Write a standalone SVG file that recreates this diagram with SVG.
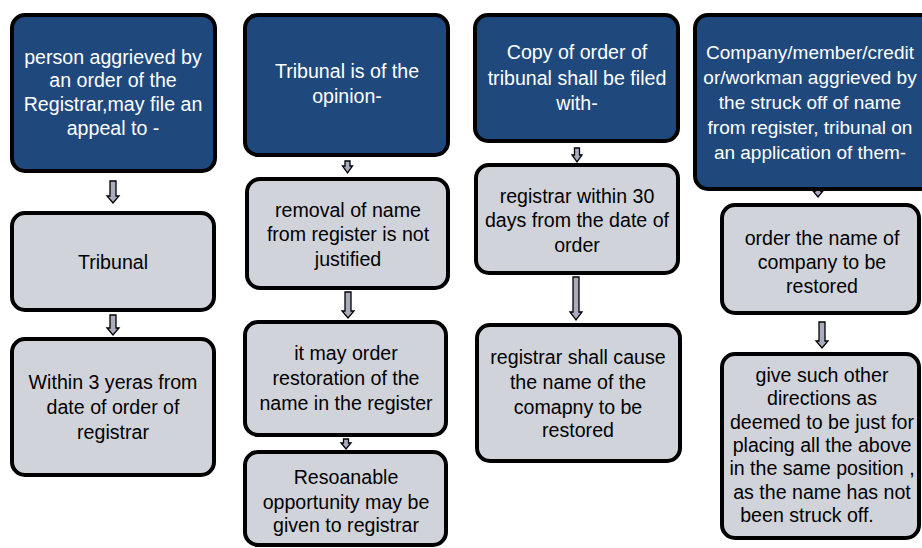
<svg xmlns="http://www.w3.org/2000/svg" width="922" height="548" viewBox="0 0 922 548">
<style>
.blue{fill:#1f497d;stroke:#000;stroke-width:4}
.gray{fill:#d1d3da;stroke:#000;stroke-width:4}
.arr{fill:#a9acbd;stroke:#000;stroke-width:1.3;stroke-linejoin:miter}
text{font-family:"Liberation Sans",Arial,sans-serif;font-size:19.6px;text-anchor:middle}
.w{fill:#fff}
.k{fill:#000}
.sm{font-size:19px}
</style>
<rect width="922" height="548" fill="#fff"/>
<g id="connectors">
<path class="arr" d="M110,181H116V196H119L113,203L107,196H110Z"/>
<path class="arr" d="M110,315H116V328H119L113,335L107,328H110Z"/>
<path class="arr" d="M345,161H350V166H352.5L347.5,173L342.5,166H345Z"/>
<path class="arr" d="M345,292H351V311H354L348,318L342,311H345Z"/>
<path class="arr" d="M343.5,439H348.5V443H351L346,449L341,443H343.5Z"/>
<path class="arr" d="M574.5,148H579.5V155H582L577,162L572,155H574.5Z"/>
<path class="arr" d="M573,277H579V312H582L576,320L570,312H573Z"/>
<path class="arr" d="M815.5,184H820.5V191H823L818,197L813,191H815.5Z"/>
<path class="arr" d="M819,322H825V341H828L822,348L816,341H819Z"/>
</g>
<g id="a1"><rect class="blue" x="12" y="15" width="203" height="156" rx="13"/>
<text class="w"><tspan x="113" y="64">person aggrieved by</tspan><tspan x="113" y="87">an order of the</tspan><tspan x="113" y="111">Registrar,may file an</tspan><tspan x="113" y="135">appeal to -</tspan></text></g>
<g id="a2"><rect class="gray" x="12" y="213" width="202" height="97" rx="13"/>
<text class="k"><tspan x="113" y="269">Tribunal</tspan></text></g>
<g id="a3"><rect class="gray" x="12" y="339" width="202" height="136" rx="13"/>
<text class="k"><tspan x="113" y="389">Within 3 yeras from</tspan><tspan x="113" y="414">date of order of</tspan><tspan x="113" y="439">registrar</tspan></text></g>
<g id="b1"><rect class="blue" x="245" y="15" width="203" height="140" rx="13"/>
<text class="w"><tspan x="347" y="78">Tribunal is of the</tspan><tspan x="347" y="103">opinion-</tspan></text></g>
<g id="b2"><rect class="gray" x="247" y="179" width="201" height="109" rx="13"/>
<text class="k"><tspan x="348" y="217">removal of name</tspan><tspan x="348" y="241">from register is not</tspan><tspan x="348" y="266">justified</tspan></text></g>
<g id="b3"><rect class="gray" x="245" y="322" width="201" height="113" rx="13"/>
<text class="k"><tspan x="346" y="360">it may order</tspan><tspan x="346" y="385">restoration of the</tspan><tspan x="346" y="410">name in the register</tspan></text></g>
<g id="b4"><rect class="gray" x="245" y="452" width="201" height="93" rx="13"/>
<text class="k"><tspan x="346" y="484">Resoanable</tspan><tspan x="346" y="509">opportunity may be</tspan><tspan x="346" y="532">given to registrar</tspan></text></g>
<g id="c1"><rect class="blue" x="475" y="15" width="203" height="126" rx="13"/>
<text class="w"><tspan x="577" y="59">Copy of order of</tspan><tspan x="577" y="85">tribunal shall be filed</tspan><tspan x="577" y="110">with-</tspan></text></g>
<g id="c2"><rect class="gray" x="476" y="165" width="202" height="108" rx="13"/>
<text class="k"><tspan x="577" y="203">registrar within 30</tspan><tspan x="577" y="227">days from the date of</tspan><tspan x="577" y="252">order</tspan></text></g>
<g id="c3"><rect class="gray" x="477" y="325" width="203" height="136" rx="13"/>
<text class="k"><tspan x="578" y="364">registrar shall cause</tspan><tspan x="578" y="389">the name of the</tspan><tspan x="578" y="414">comapny to be</tspan><tspan x="578" y="437">restored</tspan></text></g>
<g id="d1"><rect class="blue" x="695" y="15" width="240" height="174" rx="13"/>
<text class="w sm"><tspan x="810" y="59">Company/member/credit</tspan><tspan x="810" y="84">or/workman aggrieved by</tspan><tspan x="810" y="109">the struck off of name</tspan><tspan x="810" y="134">from register, tribunal on</tspan><tspan x="810" y="159">an application of them-</tspan></text></g>
<g id="d2"><rect class="gray" x="722" y="205" width="197" height="108" rx="13"/>
<text class="k"><tspan x="822" y="245">order the name of</tspan><tspan x="822" y="269">company to be</tspan><tspan x="822" y="293">restored</tspan></text></g>
<g id="d3"><rect class="gray" x="722" y="354" width="197" height="184" rx="13"/>
<text class="k"><tspan x="822" y="382">give such other</tspan><tspan x="822" y="405">directions as</tspan><tspan x="822" y="429">deemed to be just for</tspan><tspan x="822" y="452">placing all the above</tspan><tspan x="822" y="475">in the same position ,</tspan><tspan x="822" y="499">as the name has not</tspan><tspan x="807" y="522">been struck off.</tspan></text></g>
</svg>
